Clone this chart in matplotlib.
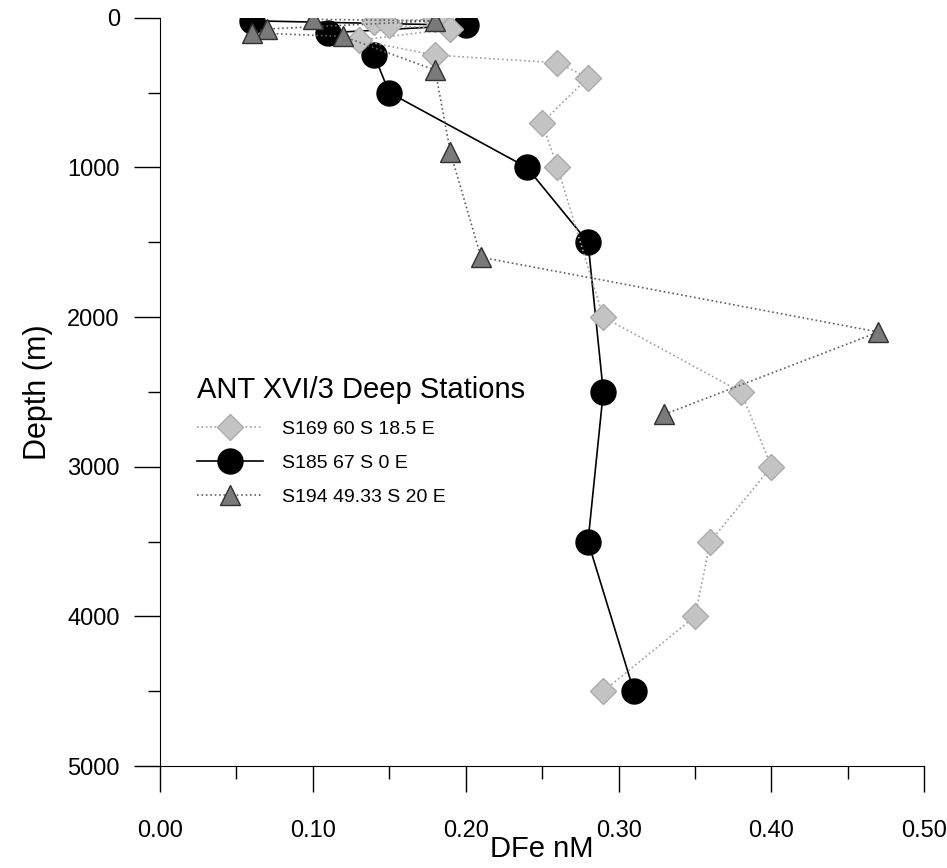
import matplotlib.pyplot as plt
from matplotlib.ticker import MultipleLocator, FormatStrFormatter

plt.rcParams['font.family'] = ['Liberation Sans', 'DejaVu Sans']

# S169 60 S 18.5 E (diamonds)
s169_depth = [10, 25, 50, 75, 150, 250, 300, 400, 700, 1000, 2000, 2500, 3000, 3500, 4000, 4500]
s169_dfe = [0.18, 0.14, 0.15, 0.19, 0.13, 0.18, 0.26, 0.28, 0.25, 0.26, 0.29, 0.38, 0.40, 0.36, 0.35, 0.29]

# S185 67 S 0 E (circles)
s185_depth = [20, 50, 100, 250, 500, 1000, 1500, 2500, 3500, 4500]
s185_dfe = [0.06, 0.20, 0.11, 0.14, 0.15, 0.24, 0.28, 0.29, 0.28, 0.31]

# S194 49.33 S 20 E (triangles)
s194_depth = [10, 20, 75, 100, 125, 350, 900, 1600, 2100, 2650]
s194_dfe = [0.10, 0.18, 0.07, 0.06, 0.12, 0.18, 0.19, 0.21, 0.47, 0.33]

labels = ['S169 60 S 18.5 E', 'S185 67 S 0 E', 'S194 49.33 S 20 E']

fig = plt.figure(figsize=(9.47, 8.68), dpi=100)
ax = fig.add_axes([0.169, 0.1175, 0.807, 0.862])

h185, = ax.plot(s185_dfe, s185_depth, '-', color='black', lw=1.2,
                marker='o', ms=18, mfc='black', mec='black', zorder=3)
h169, = ax.plot(s169_dfe, s169_depth, ':', color='#a0a0a0', lw=1.2,
                marker='D', ms=13, mfc='#c4c4c4', mec='#ababab', zorder=4)
h194, = ax.plot(s194_dfe, s194_depth, ':', color='#606060', lw=1.2,
                marker='^', ms=14, mfc='#7a7a7a', mec='#303030', zorder=5)

ax.set_xlim(0, 0.5)
ax.set_ylim(5000, 0)
ax.xaxis.set_major_locator(MultipleLocator(0.1))
ax.xaxis.set_minor_locator(MultipleLocator(0.05))
ax.xaxis.set_major_formatter(FormatStrFormatter('%.2f'))
ax.yaxis.set_major_locator(MultipleLocator(1000))
ax.yaxis.set_minor_locator(MultipleLocator(500))

for s in ['top', 'right']:
    ax.spines[s].set_visible(False)

ax.tick_params(which='major', length=19, width=1, labelsize=17, pad=10)
ax.tick_params(axis='x', which='major', pad=20)
ax.tick_params(which='minor', length=9, width=1)

ax.set_xlabel('DFe nM', fontsize=21, labelpad=-5)
ax.set_ylabel('Depth (m)', fontsize=22, labelpad=10)

leg = ax.legend([h169, h185, h194], labels, title='ANT XVI/3 Deep Stations',
                loc='upper left', bbox_to_anchor=(0.025, 0.545), frameon=False,
                fontsize=14, title_fontsize=21, handlelength=3.4,
                handletextpad=1.0, labelspacing=0.85, alignment='left')

fig.savefig('out.png', dpi=100)
